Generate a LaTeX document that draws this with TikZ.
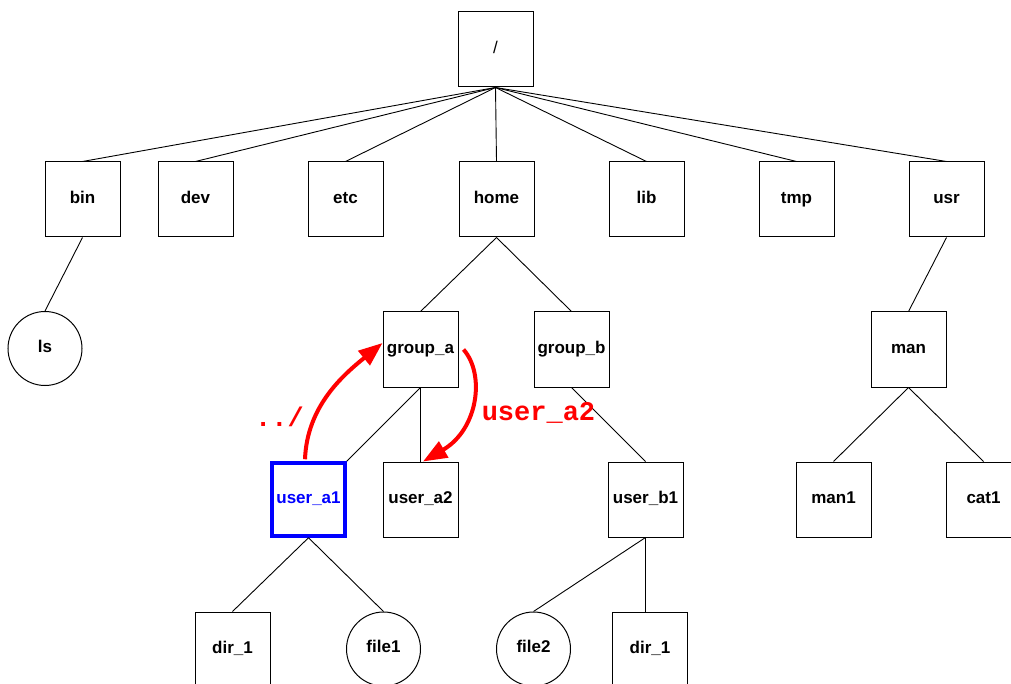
\documentclass[tikz,border=0pt]{standalone}
\usepackage{fontspec}
\setmainfont{Liberation Sans}
\newfontfamily\monofont{Liberation Mono}
\usetikzlibrary{arrows.meta}
\definecolor{pred}{RGB}{255,0,0}
\definecolor{pblue}{RGB}{0,0,255}
\tikzset{
  dirbox/.style={draw, line width=1pt, minimum size=75pt, inner sep=0pt,
    text height=12pt, text depth=4.5pt,
    font=\fontsize{17}{20}\selectfont\bfseries},
  filecirc/.style={draw, circle, line width=1pt, minimum size=74pt, inner sep=0pt,
    text height=12pt, text depth=4.5pt,
    font=\fontsize{17}{20}\selectfont\bfseries},
  edge/.style={line width=0.9pt},
  redarrow/.style={draw=pred, line width=4pt, -{Triangle[length=24pt,width=18pt]}},
  redlabel/.style={text=pred, inner sep=0pt, anchor=base,
    font=\monofont\fontsize{27}{30}\selectfont\bfseries}
}
\begin{document}
\begin{tikzpicture}[x=1pt,y=-1pt]
\useasboundingbox (0,0) rectangle (1011,684);
% nodes
\node[dirbox, font=\fontsize{17}{20}\selectfont] (root) at (495.5,49.5) {/};
\node[dirbox] (bin) at (82.5,199.5) {bin};
\node[dirbox] (dev) at (195.5,199.5) {dev};
\node[dirbox] (etc) at (345.5,199.5) {etc};
\node[dirbox] (home) at (496.5,199.5) {home};
\node[dirbox] (lib) at (646.5,199.5) {lib};
\node[dirbox] (tmp) at (796.5,199.5) {tmp};
\node[dirbox] (usr) at (946.5,199.5) {usr};
\node[filecirc] (ls) at (45,348.5) {ls};
\node[dirbox] (groupa) at (420.5,349.5) {group\_a};
\node[dirbox] (groupb) at (571.5,349.5) {group\_b};
\node[dirbox] (man) at (908.5,349.5) {man};
\node[dirbox, draw=pblue, line width=3.5pt, text=pblue, minimum size=73pt] (usera1) at (308.5,499.5) {user\_a1};
\node[dirbox] (usera2) at (420.5,499.5) {user\_a2};
\node[dirbox] (userb1) at (645.5,499.5) {user\_b1};
\node[dirbox] (man1) at (833.5,499.5) {man1};
\node[dirbox] (cat1) at (983.5,499.5) {cat1};
\node[dirbox] (dira) at (232.5,649.5) {dir\_1};
\node[filecirc] (file1) at (383.5,649) {file1};
\node[filecirc] (file2) at (533.5,649) {file2};
\node[dirbox] (dirb) at (650,649.5) {dir\_1};
% edges
\foreach \c in {bin,dev,etc,home,lib,tmp,usr}
  \draw[edge] (root.south) -- (\c.north);
\draw[edge] (bin.south) -- (ls.north);
\draw[edge] (home.south) -- (groupa.north);
\draw[edge] (home.south) -- (groupb.north);
\draw[edge] (usr.south) -- (man.north);
\draw[edge] (groupa.south) -- (usera1.north east);
\draw[edge] (groupa.south) -- (usera2.north);
\draw[edge] (groupb.south) -- (userb1.north);
\draw[edge] (man.south) -- (man1.north);
\draw[edge] (man.south) -- (cat1.north);
\draw[edge] (usera1.south) -- (dira.north);
\draw[edge] (usera1.south) -- (file1.north);
\draw[edge] (userb1.south) -- (file2.north);
\draw[edge] (userb1.south) -- (userb1.south |- dirb.north);
% red arrows
\draw[redarrow] ([xshift=-3.5pt,yshift=2pt]usera1.north) .. controls +(2,-54) and +(-38,31) .. ([yshift=6.5pt]groupa.west);
\draw[redarrow] ([xshift=5pt]groupa.east) .. controls +(22,25) and +(55,-32) .. ([xshift=2.5pt]usera2.north);
\node[redlabel] (lbl1) at (279.5,426) {../};
\node[redlabel] (lbl2) at (538.5,420) {user\_a2};
\end{tikzpicture}
\end{document}
